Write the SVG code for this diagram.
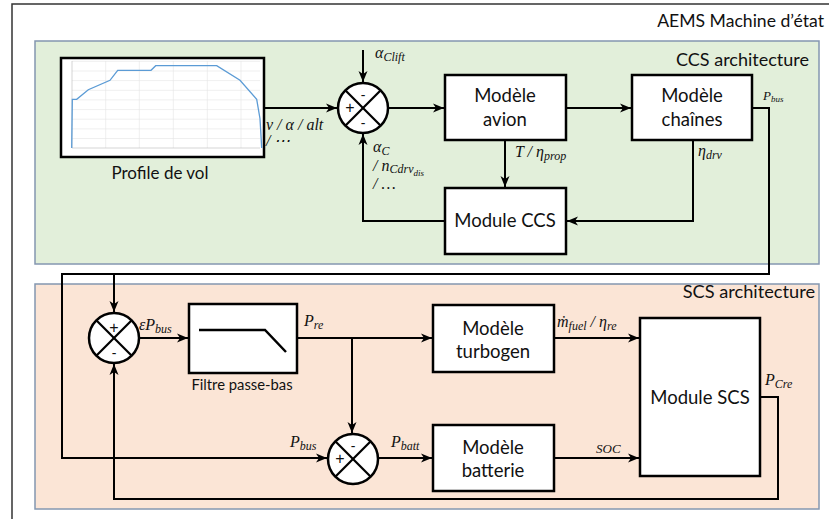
<svg xmlns="http://www.w3.org/2000/svg" width="829" height="519" viewBox="0 0 829 519">
<defs>
<marker id="arr" markerWidth="12" markerHeight="10" refX="11" refY="5" orient="auto" markerUnits="userSpaceOnUse">
<path d="M0,0.5 L11,5 L0,9.5 L3,5 Z" fill="#000"/>
</marker>
</defs>
<style>
.panel-g{fill:#e2efda;stroke:#8497b0;stroke-width:1.5}
.panel-s{fill:#fbe5d6;stroke:#8497b0;stroke-width:1.5}
.box{fill:#fff;stroke:#000;stroke-width:2.5}
.sum{fill:#fff;stroke:#000;stroke-width:2.5}
.x{stroke:#000;stroke-width:2.2}
.ln{fill:none;stroke:#000;stroke-width:2}
.t{font-family:Lato,"Liberation Sans",sans-serif;fill:#111}
.tc{font-family:Lato,"Liberation Sans",sans-serif;font-size:18.5px;fill:#111;text-anchor:middle}
.sg{font-family:"Liberation Sans",sans-serif;fill:#111;text-anchor:middle}
.m{font-family:"Liberation Serif","DejaVu Serif",serif;font-style:italic;fill:#111}
.sb{font-size:12px}
.grid{stroke:#e4e4e4;stroke-width:0.6}
</style>

<rect x="12" y="4" width="900" height="600" fill="#fff" stroke="#333" stroke-width="1.5"/>
<text class="t" x="824" y="27" text-anchor="end" style="font-size:17.6px">AEMS Machine d’état</text>

<g id="ccs-panel">
<rect class="panel-g" x="35" y="41" width="784" height="223"/>
<text class="t" x="809" y="66" text-anchor="end" style="font-size:18px">CCS architecture</text>
</g>
<g id="scs-panel">
<rect class="panel-s" x="35" y="284" width="784" height="225"/>
<text class="t" x="815" y="298" text-anchor="end" style="font-size:18.2px">SCS architecture</text>
</g>

<g id="profile">
<rect x="61" y="58" width="203" height="99" fill="#fff" stroke="#000" stroke-width="2.5"/>
<g class="grid">
<line x1="72" y1="61.3" x2="260" y2="61.3"/>
<line x1="72" y1="71" x2="260" y2="71"/>
<line x1="72" y1="80.6" x2="260" y2="80.6"/>
<line x1="72" y1="90.3" x2="260" y2="90.3"/>
<line x1="72" y1="99.9" x2="260" y2="99.9"/>
<line x1="72" y1="109.6" x2="260" y2="109.6"/>
<line x1="72" y1="119.2" x2="260" y2="119.2"/>
<line x1="72" y1="128.9" x2="260" y2="128.9"/>
<line x1="72" y1="138.5" x2="260" y2="138.5"/>
<line x1="105.7" y1="61" x2="105.7" y2="148"/>
<line x1="139.3" y1="61" x2="139.3" y2="148"/>
<line x1="173.3" y1="61" x2="173.3" y2="148"/>
<line x1="207.3" y1="61" x2="207.3" y2="148"/>
<line x1="241" y1="61" x2="241" y2="148"/>
</g>
<line x1="72" y1="148" x2="260" y2="148" stroke="#bbb" stroke-width="0.6"/>
<line x1="72" y1="61" x2="72" y2="148" stroke="#bbb" stroke-width="0.6"/>
<polyline points="71.7,148 72.3,99.3 76.7,99.3 88.3,89.7 110,80.3 117.7,70.3 151,70.3 155.7,65.7 216.7,65.7 240,80.3 256.7,99.3 260,118.7 261.7,148" fill="none" stroke="#5b9bd5" stroke-width="1.3"/>
<text class="t" x="160" y="179" text-anchor="middle" style="font-size:17px">Profile de vol</text>
</g>

<g id="sum1">
<circle class="sum" cx="363" cy="108" r="25"/>
<line class="x" x1="345.3" y1="90.3" x2="380.7" y2="125.7"/>
<line class="x" x1="380.7" y1="90.3" x2="345.3" y2="125.7"/>
<text class="sg" x="363" y="100" style="font-size:14px">-</text>
<text class="sg" x="350" y="113" style="font-size:16px">+</text>
<text class="sg" x="363" y="128" style="font-size:14px">-</text>
</g>

<g id="avion">
<rect class="box" x="445" y="75" width="121" height="65"/>
<text class="tc" x="505" y="102">Modèle</text>
<text class="tc" x="505" y="126">avion</text>
</g>
<g id="chaines">
<rect class="box" x="632" y="75" width="120" height="65"/>
<text class="tc" x="692" y="102">Modèle</text>
<text class="tc" x="692" y="126">chaînes</text>
</g>
<g id="module-ccs">
<rect class="box" x="445" y="188" width="121" height="66"/>
<text class="tc" x="505" y="227">Module CCS</text>
</g>

<g id="sum2">
<circle class="sum" cx="114" cy="338" r="25"/>
<line class="x" x1="96.3" y1="320.3" x2="131.7" y2="355.7"/>
<line class="x" x1="131.7" y1="320.3" x2="96.3" y2="355.7"/>
<text class="sg" x="114" y="333" style="font-size:16px">+</text>
<text class="sg" x="114" y="358" style="font-size:14px">-</text>
</g>

<g id="filtre">
<rect class="box" x="189" y="304" width="108" height="69"/>
<polyline points="199,330 265,330 286,352" fill="none" stroke="#000" stroke-width="2.5"/>
<text class="t" x="242" y="390" text-anchor="middle" style="font-size:14.8px">Filtre passe-bas</text>
</g>

<g id="sum3">
<circle class="sum" cx="353" cy="459" r="25"/>
<line class="x" x1="335.3" y1="441.3" x2="370.7" y2="476.7"/>
<line class="x" x1="370.7" y1="441.3" x2="335.3" y2="476.7"/>
<text class="sg" x="353" y="451" style="font-size:14px">-</text>
<text class="sg" x="340" y="464" style="font-size:16px">+</text>
</g>

<g id="turbogen">
<rect class="box" x="433" y="305" width="121" height="67"/>
<text class="tc" x="493" y="335">Modèle</text>
<text class="tc" x="493" y="358">turbogen</text>
</g>
<g id="batterie">
<rect class="box" x="433" y="425" width="121" height="66"/>
<text class="tc" x="493" y="454">Modèle</text>
<text class="tc" x="493" y="477">batterie</text>
</g>
<g id="module-scs">
<rect class="box" x="640" y="318" width="120" height="158"/>
<text class="tc" x="700" y="404">Module SCS</text>
</g>

<g id="connectors">
<line class="ln" x1="264" y1="108" x2="337" y2="108" marker-end="url(#arr)"/>
<line class="ln" x1="363" y1="50" x2="363" y2="82" marker-end="url(#arr)"/>
<line class="ln" x1="388" y1="108" x2="444" y2="108" marker-end="url(#arr)"/>
<line class="ln" x1="566" y1="108" x2="631" y2="108" marker-end="url(#arr)"/>
<line class="ln" x1="505" y1="140" x2="505" y2="187" marker-end="url(#arr)"/>
<polyline class="ln" points="693,140 693,221 567,221" marker-end="url(#arr)"/>
<polyline class="ln" points="445,221 363,221 363,134" marker-end="url(#arr)"/>
<polyline class="ln" points="752,108 769,108 769,274 62,274 62,458 327,458" marker-end="url(#arr)" stroke-width="2.5"/>
<line class="ln" x1="114" y1="274" x2="114" y2="312" marker-end="url(#arr)"/>
<line class="ln" x1="139" y1="338" x2="188" y2="338" marker-end="url(#arr)"/>
<line class="ln" x1="297" y1="338" x2="432" y2="338" marker-end="url(#arr)"/>
<line class="ln" x1="352" y1="338" x2="352" y2="433" marker-end="url(#arr)"/>
<line class="ln" x1="378" y1="458" x2="432" y2="458" marker-end="url(#arr)"/>
<line class="ln" x1="554" y1="338" x2="639" y2="338" marker-end="url(#arr)"/>
<line class="ln" x1="554" y1="458" x2="639" y2="458" marker-end="url(#arr)"/>
<polyline class="ln" points="760,397 778,397 778,499 114,499 114,364" marker-end="url(#arr)" stroke-width="2.5"/>
</g>

<g id="labels">
<text class="m" x="375" y="58" style="font-size:16px">α<tspan class="sb" dy="3">Clift</tspan></text>
<text class="m" x="266" y="130" style="font-size:16px">v / α / alt</text>
<text class="m" x="266" y="146" style="font-size:16px">/ ⋯</text>
<text class="m" x="373" y="152" style="font-size:16px">α<tspan class="sb" dy="2.5">C</tspan></text>
<text class="m" x="373" y="171" style="font-size:16px">/ n<tspan class="sb" dy="2">Cdrv</tspan><tspan style="font-size:9px" dy="3">dis</tspan></text>
<text class="m" x="373" y="189" style="font-size:16px">/  …</text>
<text class="m" x="515" y="157" style="font-size:16px">T / η<tspan class="sb" dy="3">prop</tspan></text>
<text class="m" x="698" y="156" style="font-size:16px">η<tspan class="sb" dy="3">drv</tspan></text>
<text class="m" x="763" y="100" style="font-size:13px">P<tspan style="font-size:9px" dy="2">bus</tspan></text>
<text class="m" x="139" y="330" style="font-size:16px">εP<tspan class="sb" dy="3">bus</tspan></text>
<text class="m" x="304" y="326" style="font-size:16px">P<tspan class="sb" dy="3">re</tspan></text>
<text class="m" x="290" y="447" style="font-size:16px">P<tspan class="sb" dy="3">bus</tspan></text>
<text class="m" x="391" y="447" style="font-size:16px">P<tspan class="sb" dy="3">batt</tspan></text>
<text class="m" x="557" y="327" style="font-size:16px">ṁ<tspan class="sb" dy="3">fuel</tspan><tspan dy="-3"> / η</tspan><tspan class="sb" dy="3">re</tspan></text>
<text class="m" x="596" y="453" style="font-size:13px">SOC</text>
<text class="m" x="765" y="385" style="font-size:16px">P<tspan class="sb" dy="3">Cre</tspan></text>
</g>
</svg>
